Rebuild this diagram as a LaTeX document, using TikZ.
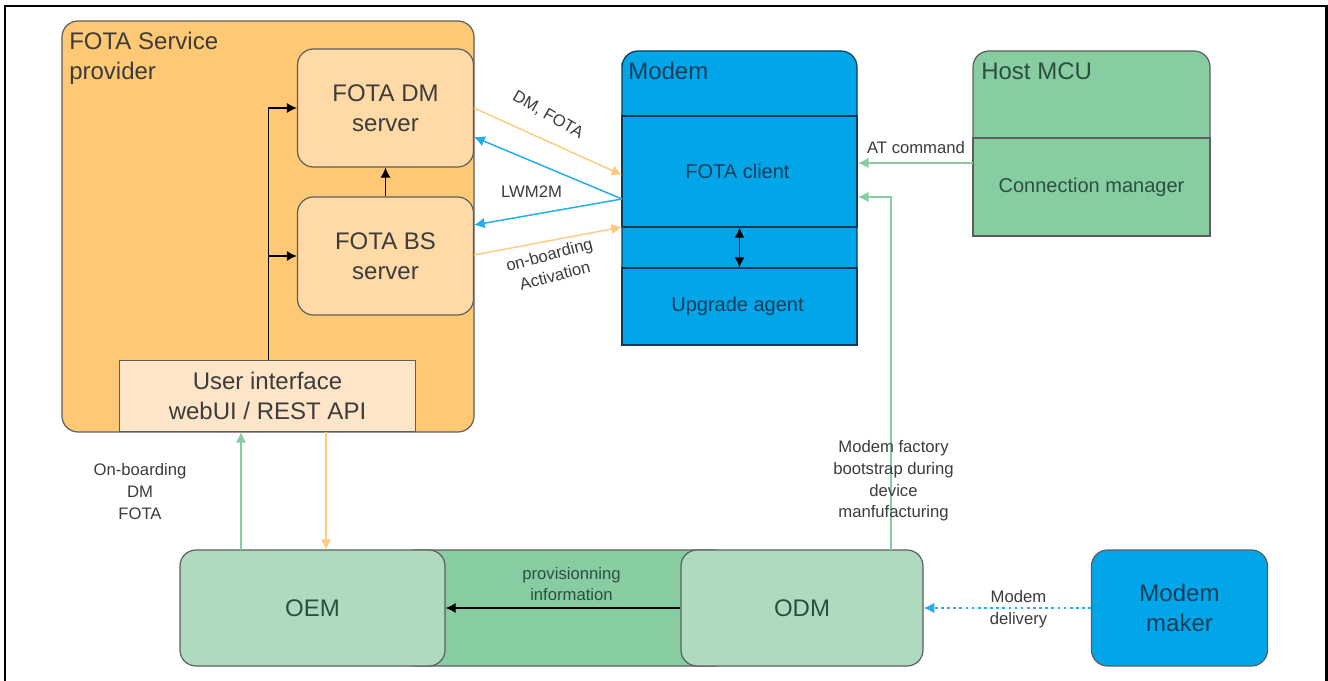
\documentclass[tikz,border=0pt]{standalone}
\usepackage{fontspec}
\setmainfont{Liberation Sans}
\usetikzlibrary{arrows.meta}
\definecolor{outerorg}{HTML}{FFC874}
\definecolor{lightorg}{HTML}{FFDAA6}
\definecolor{paleorg}{HTML}{FFE5C8}
\definecolor{lineorg}{HTML}{FFCB80}
\definecolor{grn}{HTML}{88CDA2}
\definecolor{lightgrn}{HTML}{AEDBBE}
\definecolor{blu}{HTML}{00A6E8}
\definecolor{lineblu}{HTML}{22AEEA}
\definecolor{edge}{HTML}{5E5E5E}
\definecolor{navy}{HTML}{0C3A5A}
\definecolor{txt}{HTML}{3C3C3C}
\definecolor{grntxt}{HTML}{2A4F40}
\definecolor{blutxt}{HTML}{123E5C}
\tikzset{
  px/.style={x=0.75pt,y=-0.75pt},
  box/.style={draw=edge,line width=0.9pt,inner sep=0pt,align=center,text=txt},
  rbox/.style={box,rounded corners=12pt},
  big/.style={font=\fontsize{18}{22.5}\selectfont},
  mid/.style={font=\fontsize{15}{18}\selectfont},
  small/.style={font=\fontsize{12.5}{16.3}\selectfont,text=txt,align=center,inner sep=0pt},
  blk/.style={-{Latex[length=7.5pt,width=7.5pt]},line width=0.8pt,black},
  org/.style={-{Latex[length=8pt,width=8pt]},line width=1.1pt,lineorg},
  grnl/.style={-{Latex[length=8pt,width=8pt]},line width=1.1pt,grn},
  bll/.style={-{Latex[length=8pt,width=8pt]},line width=1.1pt,lineblu},
}
\begin{document}
\begin{tikzpicture}[px]
\useasboundingbox (0,0) rectangle (1328,681);
\fill[white] (0,0) rectangle (1328,681);
% frame
\draw[black,line width=1.6pt] (5,681) -- (5,6) -- (1326.5,6) -- (1326.5,681);
% service provider
\path[rbox,draw=edge,fill=outerorg,line width=0.9pt] (62,21) rectangle (474,432);
\node[anchor=north west,big,text=txt,align=left,inner sep=0pt] (provt) at (69,32) {FOTA Service\\provider};
\node[rbox,fill=lightorg,minimum width=132pt,minimum height=88.5pt,big] (dm) at (385.5,108) {FOTA DM\\server};
\node[rbox,fill=lightorg,minimum width=132pt,minimum height=88.5pt,big] (bs) at (385.5,256) {FOTA BS\\server};
\node[box,fill=paleorg,minimum width=221.5pt,minimum height=53pt,big] (ui) at (267.5,396) {User interface\\webUI / REST API};
\coordinate (trunk) at (268.5,256);
\draw[blk] (ui.north -| trunk) -- (268.5,108) -- (dm.west);
\draw[blk] (trunk) -- (bs.west);
\draw[blk] (bs.north) -- (dm.south);
% modem
\path[draw=navy,fill=blu,line width=0.9pt,rounded corners=12pt] (622,345) [sharp corners] -- (622,63) [rounded corners=12pt] -- (622,51) -- (857,51) [sharp corners] -- (857,345) -- cycle;
\node[anchor=north west,big,text=blutxt,inner sep=0pt] (modemt) at (628,62) {Modem};
\node[box,draw=navy,fill=blu,minimum width=176.25pt,minimum height=83.25pt,mid,text=blutxt] (client) at (739.5,171.5) {\hspace*{-3pt}FOTA client};
\node[box,draw=navy,fill=blu,minimum width=176.25pt,minimum height=57.75pt,mid,text=blutxt] (agent) at (739.5,306.5) {\hspace*{-3pt}Upgrade agent};
\draw[{Latex[length=7.5pt,width=7.5pt]}-{Latex[length=7.5pt,width=7.5pt]},line width=0.8pt,black] (client.south) -- (agent.north);
% host
\path[draw=edge,fill=grn,line width=0.9pt,rounded corners=12pt] (973,236) -- (973,51) -- (1210,51) [sharp corners] -- (1210,236) -- cycle;
\node[anchor=north west,big,text=grntxt,inner sep=0pt] (hostt) at (981,62) {Host MCU};
\node[box,fill=grn,minimum width=177.75pt,minimum height=73.5pt,mid,text=grntxt] (cm) at (1091.5,187) {Connection manager};
% bottom
\path[rbox,draw=edge,fill=grn,line width=0.9pt] (400,550) rectangle (730,666);
\node[rbox,fill=lightgrn,minimum width=198.75pt,minimum height=87pt,big,text=grntxt] (oem) at (312.5,608) {OEM};
\node[rbox,fill=lightgrn,minimum width=181.5pt,minimum height=87pt,big,text=grntxt] (odm) at (802,608) {ODM};
\node[rbox,fill=blu,minimum width=132pt,minimum height=87pt,big,text=blutxt] (maker) at (1179.5,608) {Modem\\maker};
\draw[blk] (odm.west) -- (oem.east);
\node[small,text=grntxt] (prov2) at (571.5,584) {provisionning\\information};
% coloured connectors
\coordinate (fc) at (622,199);
\coordinate (dmo) at (474,108);
\coordinate (bso) at (474,255);
\coordinate (dmi) at (474,137);
\coordinate (bsi) at (474,225);
\coordinate (cliA) at (622,175);
\coordinate (cliB) at (622,227);
\draw[org] (dmo) -- (cliA);
\draw[bll] (fc) -- (dmi);
\draw[bll] (fc) -- (bsi);
\draw[org] (bso) -- (cliB);
\node[small,rotate=-30] (l1) at (548,115) {DM, FOTA};
\node[small] (l2) at (531.5,192) {LWM2M};
\node[small,rotate=15] (l3) at (552,265) {on-boarding\\Activation};
\coordinate (hostout) at (973,163);
\coordinate (cliin) at (858,163);
\draw[grnl] (hostout) -- (cliin);
\node[small] (at) at (916,148) {AT command};
\coordinate (odmup) at (891,550);
\coordinate (cliin2) at (858,197);
\draw[grnl] (odmup) -- (891,197) -- (cliin2);
\node[small] (mf) at (893.5,481) {Modem factory\\bootstrap during\\device\\manfufacturing};
\coordinate (oemup) at (241,550);
\coordinate (uiin) at (241,432);
\draw[grnl] (oemup) -- (uiin);
\coordinate (uiout) at (326,432);
\coordinate (oemin) at (326,550);
\draw[org] (uiout) -- (oemin);
\node[small] (ob) at (140,491.5) {On-boarding\\DM\\FOTA};
\draw[bll,dash pattern=on 2pt off 2.6pt,line width=1.2pt] (maker.west) -- (odm.east);
\node[small] (md) at (1018.5,609) {Modem\\delivery};
\end{tikzpicture}
\end{document}
